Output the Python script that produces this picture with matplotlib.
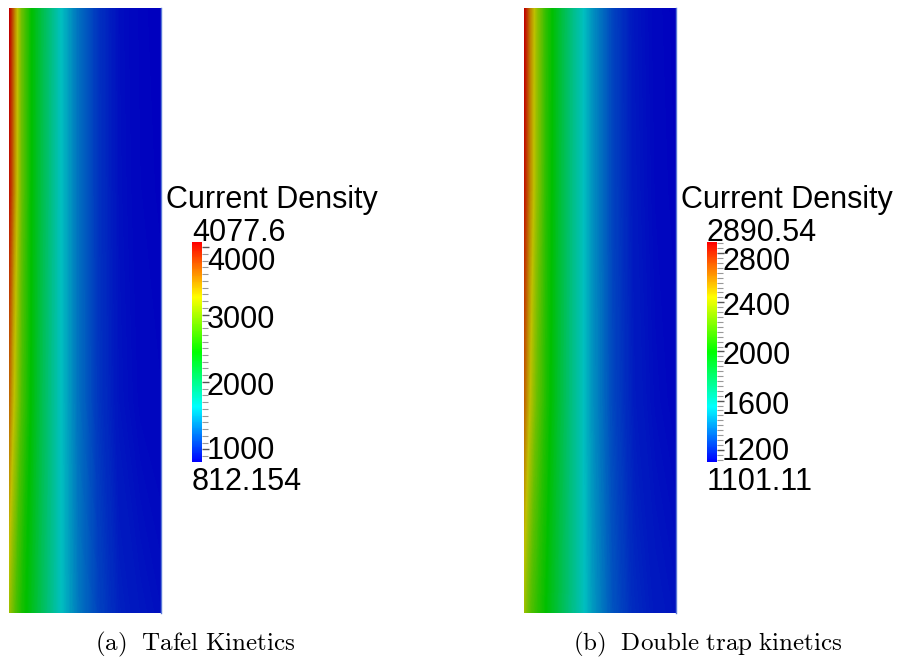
import numpy as np
import matplotlib
matplotlib.use('Agg')
import matplotlib.pyplot as plt
from matplotlib.colors import ListedColormap, Normalize, hsv_to_rgb
from matplotlib.cm import ScalarMappable
from matplotlib.ticker import MultipleLocator
from matplotlib.transforms import ScaledTranslation

plt.rcParams['mathtext.fontset'] = 'cm'

# sample positions across the strip (0 = left edge, 1 = right edge)
x_pos = [0, 0.015, 0.04, 0.08, 0.14, 0.22, 0.33, 0.45, 0.58, 0.72, 0.86, 1.0]
# sample rows (0 = bottom, 1 = top)
y_pos = [0.0, 0.35, 0.7, 1.0]

# (a) Tafel kinetics, current density
tafel_bottom = [3098, 2967, 2771, 2543, 2347, 2053, 1661, 1335, 1106, 959, 910, 878]
tafel_lower = [3620, 3424, 3163, 2771, 2445, 2086, 1661, 1302, 1050, 900, 850, 835]
tafel_upper = [3980, 3780, 3400, 2890, 2470, 2110, 1661, 1302, 1041, 885, 835, 818]
tafel_top = [4077.6, 3849, 3424, 2902, 2478, 2118, 1661, 1302, 1041, 878, 829, 812.154]
tafel_range = (812.154, 4077.6)
tafel_ticks = [1000, 2000, 3000, 4000]

# (b) double trap kinetics
dtrap_bottom = [2354, 2282, 2193, 2103, 1996, 1853, 1656, 1459, 1298, 1200, 1164, 1146]
dtrap_lower = [2658, 2568, 2425, 2246, 2068, 1889, 1656, 1441, 1270, 1170, 1135, 1118]
dtrap_upper = [2840, 2740, 2560, 2340, 2095, 1900, 1656, 1441, 1262, 1160, 1124, 1106]
dtrap_top = [2890.54, 2783, 2586, 2354, 2103, 1906, 1656, 1441, 1262, 1155, 1119, 1101.11]
dtrap_range = (1101.11, 2890.54)
dtrap_ticks = [1200, 1600, 2000, 2400, 2800]

captions = ['(a)\\ \\ Tafel\\ Kinetics', '(b)\\ \\ Double\\ trap\\ kinetics']

W, H = 901, 664

# blue-to-red rainbow (HSV), field version is shaded darker
hues = np.linspace(2 / 3, 0, 256)
rainbow = hsv_to_rgb(np.stack([hues, np.ones(256), np.ones(256)], axis=1))
cmap_bar = ListedColormap(rainbow)
cmap_field = ListedColormap(rainbow * 0.75)


def fx(px):
    return px / W


def fy(py):
    return (H - py) / H


def draw_panel(fig, x0, rows, vrange, ticks, minor_step, top_shift, caption, cap_x):
    vmin, vmax = vrange
    norm = Normalize(vmin, vmax)

    # field strip
    ax = fig.add_axes([fx(x0), fy(613), fx(152), 605 / H])
    Z = np.array(rows)
    X, Y = np.meshgrid(x_pos, y_pos)
    ax.contourf(X, Y, Z, levels=np.linspace(vmin, vmax, 300), cmap=cmap_field,
                norm=norm, antialiased=False)
    ax.set_xlim(0, 1)
    ax.set_ylim(0, 1)
    ax.set_xticks([])
    ax.set_yticks([])
    for side in ['top', 'bottom', 'left']:
        ax.spines[side].set_visible(False)
    ax.spines['right'].set_color('#5a78d8')
    ax.spines['right'].set_linewidth(1.0)

    # colorbar
    cb_x = x0 + 183
    cax = fig.add_axes([fx(cb_x), fy(462), fx(10), 220 / H])
    cbar = fig.colorbar(ScalarMappable(norm=norm, cmap=cmap_bar), cax=cax)
    cbar.outline.set_visible(False)
    cbar.set_ticks(ticks)
    cax.yaxis.set_minor_locator(MultipleLocator(minor_step))
    cax.tick_params(which='major', length=5, width=1, color='#555555', labelright=False)
    cax.tick_params(which='minor', length=4, width=0.8, color='#999999')

    # tick labels, shifted below their ticks like ParaView does
    for i, t in enumerate(ticks):
        if i == len(ticks) - 1:
            dy = top_shift
        elif i == 0:
            dy = 10
        else:
            dy = 13
        tr = cax.get_yaxis_transform() + ScaledTranslation(5 / 100, -dy / 100, fig.dpi_scale_trans)
        cax.text(1, t, f'{t}', transform=tr, ha='left', va='baseline',
                 fontsize=22, family='Liberation Sans')

    fig.text(fx(cb_x - 26), fy(208), 'Current Density', ha='left', va='baseline',
             fontsize=22, family='Liberation Sans')
    fig.text(fx(cb_x), fy(241), f'{vmax:g}', ha='left', va='baseline',
             fontsize=22, family='Liberation Sans')
    fig.text(fx(cb_x), fy(490), f'{vmin:g}', ha='left', va='baseline',
             fontsize=22, family='Liberation Sans')

    fig.text(fx(cap_x), fy(650), '$\\mathrm{' + caption + '}$', ha='center',
             va='baseline', fontsize=18)


fig = plt.figure(figsize=(W / 100, H / 100), dpi=100)

draw_panel(fig, 9, [tafel_bottom, tafel_lower, tafel_upper, tafel_top],
           tafel_range, tafel_ticks, 100, 23, captions[0], 195)
draw_panel(fig, 524, [dtrap_bottom, dtrap_lower, dtrap_upper, dtrap_top],
           dtrap_range, dtrap_ticks, 40, 17, captions[1], 708)

fig.savefig('out.png', dpi=100)
